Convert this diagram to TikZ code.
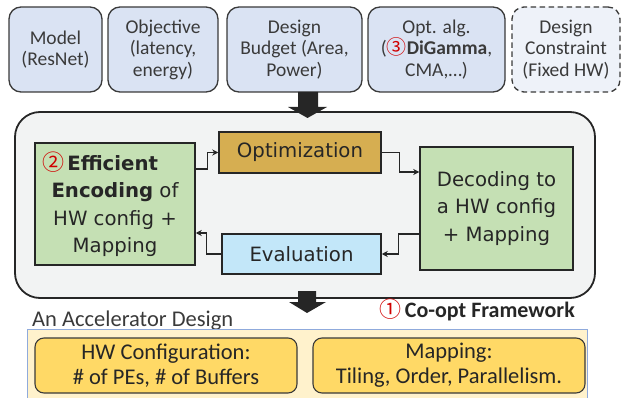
\documentclass[tikz,border=0pt]{standalone}
\usepackage{fontspec}
\setmainfont{Carlito}
\newfontfamily\tah{DejaVu Sans}
\newfontfamily\cjk{Noto Sans CJK SC}
\usetikzlibrary{arrows.meta}
\definecolor{ink}{HTML}{262626}
\definecolor{topink}{HTML}{3A3A3A}
\definecolor{topfill}{HTML}{DAE3F3}
\definecolor{dashfill}{HTML}{EEF2F9}
\definecolor{framefill}{HTML}{F2F3F3}
\definecolor{greenfill}{HTML}{C5E0B4}
\definecolor{goldfill}{HTML}{D6AE51}
\definecolor{evalfill}{HTML}{C3E7F9}
\definecolor{beige}{HTML}{FFF2CC}
\definecolor{beigeline}{HTML}{8FAADC}
\definecolor{yellowfill}{HTML}{FFD966}
\definecolor{numred}{HTML}{D00000}
\tikzset{
  topbox/.style={draw=topink, line width=1.3pt, fill=topfill, rounded corners=12pt,
    inner sep=0pt, align=center, text=topink, minimum height=85pt,
    font=\fontsize{19.5}{21.5}\selectfont},
  dashbox/.style={topbox, fill=dashfill, dash pattern=on 5.5pt off 3.5pt},
  bigbox/.style={draw=ink, line width=1.8pt, fill=framefill, rounded corners=25pt},
  midbox/.style={draw=ink, line width=1.5pt, inner sep=0pt, align=center, text=ink,
    font=\tah\fontsize{19.7}{27.5}\selectfont},
  conn/.style={draw=ink, line width=1.1pt, -{Stealth[length=6pt,width=6pt]}},
  ybox/.style={draw=topink, line width=1.1pt, fill=yellowfill, rounded corners=9pt,
    inner sep=0pt, align=center, text=ink, minimum height=55pt,
    font=\fontsize{22.5}{25}\selectfont},
  bigarrow/.style={fill=ink},
  num/.style={text=numred}
}
\begin{document}
\begin{tikzpicture}[x=1pt,y=-1pt]
\useasboundingbox (0,0) rectangle (623,398);

% top inputs
\node[topbox, minimum width=93pt]  (model) at (55.5,49.5)  {Model\\(ResNet)};
\node[topbox, minimum width=110pt] (obj)   at (163,49.5)   {Objective\\(latency,\\energy)};
\node[topbox, minimum width=135pt] (bud)   at (294.5,49.5) {Design\\Budget (Area,\\Power)};
\node[topbox, minimum width=137pt] (alg)   at (436.5,49.5) {Opt. alg.\\({\cjk\fontsize{20}{21.5}\selectfont\color{numred}③}\textbf{DiGamma},\\CMA,\dots)};
\node[dashbox, minimum width=108pt] (con)  at (566,49.5)   {Design\\Constraint\\(Fixed HW)};

% framework
\node[bigbox, minimum width=580pt, minimum height=186pt] (frame) at (305,205) {};

\fill[bigarrow] (298,92) -- (318,92) -- (318,107) -- (327,107) -- (307.5,118)
  -- (288,107) -- (298,107) -- cycle;

\node[midbox, fill=greenfill, minimum width=160pt, minimum height=122pt] (enc) at (115,204)
  {{\cjk\fontsize{22}{27.5}\selectfont\color{numred}②}\,\textbf{Efficient}\hspace*{30pt}\\\textbf{Encoding} of\\HW config +\\Mapping};
\node[midbox, fill=goldfill, minimum width=162pt, minimum height=41pt] (opt) at (300,152.5) {Optimization};
\node[midbox, fill=evalfill, minimum width=159pt, minimum height=40pt] (eval) at (301.5,254) {Evaluation};
\node[midbox, fill=greenfill, minimum width=153pt, minimum height=123pt] (dec) at (496.5,208.5)
  {Decoding to\\a HW config\\+ Mapping};

\draw[conn] ([yshift=35pt]enc.east) -- ++(12,0) |- (opt.west);
\draw[conn] (opt.east) -- ++(18,0) |- ([yshift=36.5pt]dec.west);
\draw[conn] ([yshift=-25.5pt]dec.west) -- ++(-21,0) |- (eval.east);
\draw[conn] (eval.west) -- ++(-14.5,0) |- ([yshift=-29pt]enc.east);

\fill[bigarrow] (298,291) -- (316,291) -- (316,302) -- (326,302) -- (307,313)
  -- (289,302) -- (298,302) -- cycle;

\node[anchor=base east, text=ink, inner sep=0pt, font=\fontsize{22}{25}\selectfont] (co) at (575,317)
  {{\cjk\fontsize{22}{25}\selectfont\color{numred}①}\,\textbf{Co-opt Framework}};

% accelerator design
\node[anchor=base west, text=topink, inner sep=0pt, font=\fontsize{22.5}{25}\selectfont] (acc) at (32,326)
  {An Accelerator Design};
\fill[beige] (27,329) rectangle (587,399);
\draw[beigeline, line width=0.8pt] (27,400) -- (27,329) -- (587,329) -- (587,400);
\node[ybox, minimum width=262pt] (hw) at (166,365.5) {HW Configuration:\\\# of PEs, \# of Buffers};
\node[ybox, minimum width=272pt] (map) at (449,365.5) {Mapping:\\Tiling, Order, Parallelism.};
\end{tikzpicture}
\end{document}
